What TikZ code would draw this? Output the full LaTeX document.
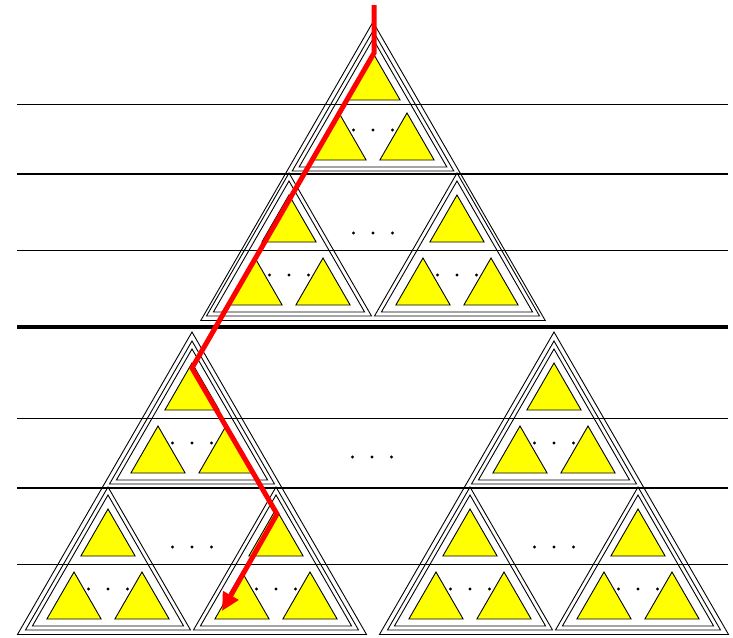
\documentclass[tikz,border=0pt]{standalone}
\usetikzlibrary{arrows.meta}
\definecolor{vebyellow}{RGB}{255,255,0}
\definecolor{vebred}{RGB}{255,0,0}
\tikzset{
  leaf/.style={draw=black, fill=vebyellow, line width=0.9pt, line join=miter},
  outline/.style={draw=black, line width=0.9pt, line join=miter},
  thinsep/.style={draw=black, line width=0.7pt},
  midsep/.style={draw=black, line width=2.4pt},
  thicksep/.style={draw=black, line width=4.4pt},
  searchpath/.style={draw=vebred, line width=5pt, line join=miter,
    -{Triangle[length=18pt,width=17pt]}}
}
% triangle: style, centre x, apex y, base y
\newcommand{\vebTri}[4]{%
  \pgfmathsetmacro\vebCx{#2}%
  \pgfmathsetmacro\vebYa{#3}%
  \pgfmathsetmacro\vebYb{#4}%
  \pgfmathsetmacro\vebHW{0.577*(\vebYb-\vebYa)}%
  \path[#1] (\vebCx,\vebYa) -- ({\vebCx-\vebHW},\vebYb) -- ({\vebCx+\vebHW},\vebYb) -- cycle;}
% three dots: centre x, y
\newcommand{\vebDots}[2]{%
  \pgfmathsetmacro\vebDx{#1}%
  \pgfmathsetmacro\vebDy{#2}%
  \fill ({\vebDx-19.5},\vebDy) circle[radius=1.7];
  \fill (\vebDx,\vebDy) circle[radius=1.7];
  \fill ({\vebDx+19.5},\vebDy) circle[radius=1.7];}
% height-2 subtree: centre x, top leaf apex y, bottom leaves apex y
\newcommand{\vebSmall}[3]{%
  \vebTri{outline}{#1}{#2-22}{#3+47+11}%
  \vebTri{outline}{#1}{#2-14}{#3+47+7}%
  \vebTri{leaf}{#1}{#2}{#2+47}%
  \vebTri{leaf}{#1-34}{#3}{#3+47}%
  \vebTri{leaf}{#1+34}{#3}{#3+47}%
  \vebDots{#1}{#3+17}}
% height-4 subtree: centre x, four band apex ys
\newcommand{\vebBig}[5]{%
  \vebTri{outline}{#1}{#2-31}{#5+47+15.5}%
  \vebSmall{#1}{#2}{#3}%
  \pgfmathsetmacro\vebBl{#1-84}%
  \pgfmathsetmacro\vebBr{#1+84}%
  \vebSmall{\vebBl}{#4}{#5}%
  \vebSmall{\vebBr}{#4}{#5}%
  \vebDots{#1}{#4+38}}
\begin{document}
\begin{tikzpicture}[x=1pt,y=-1pt]
\useasboundingbox (0,0) rectangle (733,637);
% level separators
\draw[thinsep]  (17,104) -- (728,104);
\draw[midsep]   (17,174) -- (728,174);
\draw[thinsep]  (17,250) -- (728,250);
\draw[thicksep] (17,327) -- (728,327);
\draw[thinsep]  (17,418) -- (728,418);
\draw[midsep]   (17,488) -- (728,488);
\draw[thinsep]  (17,564) -- (728,564);
% recursive layout
\vebBig{373}{53}{113}{195}{258}
\vebBig{192}{363}{426}{509}{572}
\vebBig{554}{363}{426}{509}{572}
\vebDots{372}{457}
% search path
\coordinate (p0) at (374,5);
\coordinate (p1) at (374,53);
\coordinate (p2) at (192,368);
\coordinate (p3) at (277,514);
\coordinate (p4) at (222,611);
\draw[searchpath] (p0) -- (p1) -- (p2) -- (p3) -- (p4);
\end{tikzpicture}
\end{document}
